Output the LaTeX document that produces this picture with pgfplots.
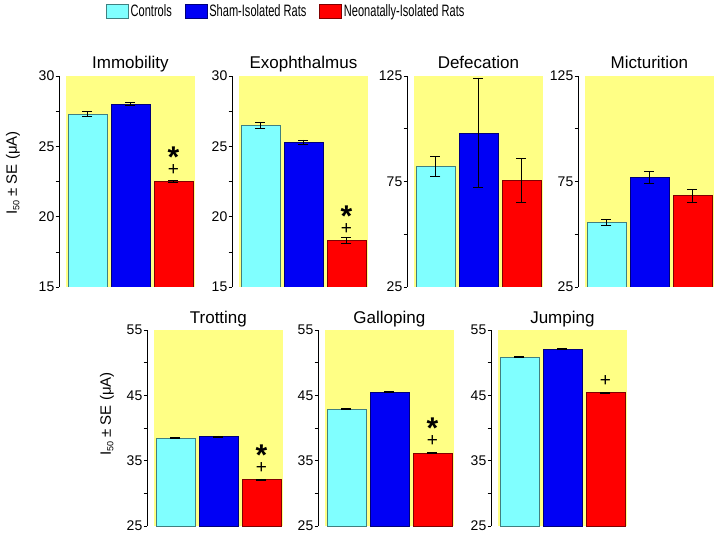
\documentclass[border=0pt]{standalone}
\usepackage{pgfplots}
\pgfplotsset{compat=1.18}
\usepackage{fontspec}
\setmainfont{Liberation Sans}
\newfontfamily\legfont[FakeStretch=0.67]{Liberation Sans}

\definecolor{ctrl}{RGB}{128,255,255}
\definecolor{sham}{RGB}{0,0,245}
\definecolor{neo}{RGB}{255,0,0}
\definecolor{bg}{RGB}{255,255,133}

\pgfplotsset{
  panel/.style={
    scale only axis, width=136pt,
    xmin=-0.66, xmax=2.5,
    axis x line=none, axis y line=left,
    y axis line style={-, line width=0.6pt},
    xtick=\empty, minor y tick num=1,
    tick align=outside, major tick length=3.5pt, minor tick length=3.5pt,
    every tick/.style={black, line width=0.6pt},
    /pgf/number format/assume math mode=true,
    yticklabel style={font=\fontsize{14}{16}\selectfont, inner sep=1pt},
    every axis title shift=0pt,
    title style={font=\fontsize{17}{20}\selectfont, at={(0.525,1)}, anchor=base, yshift=7pt},
  },
  top/.style={panel, height=211pt},
  bottom/.style={panel, height=196pt, ymin=25, ymax=55, ytick={25,35,45,55}},
  bar/.style={ybar, bar width=0.9, bar shift=0pt, fill=#1, draw=#1!50!black, line width=0.5pt,
    legend image code/.code={\draw[##1] (0pt,-7pt) rectangle (22pt,7pt);},
    error bars/.cd, y dir=both, y explicit,
    error bar style={black, line width=0.6pt},
    error mark options={rotate=90, black, line width=0.6pt, mark size=5pt}},
}

% yellow panel background
\newcommand\bgbox[2]{\fill[bg] (axis cs:-0.5,#1) rectangle (axis cs:2.5,#2);}
% significance marks above the red bar (boxes trimmed to the glyphs)
\newcommand\plus[1]{\node[anchor=south, inner sep=0pt, font=\fontsize{19}{19}\selectfont, yshift=8pt]
  at (axis cs:2,#1) {\raisebox{-0.11em}[0.47em][0pt]{+}};}
\newcommand\aster[1]{\node[anchor=south, inner sep=0pt, font=\bfseries\fontsize{30}{30}\selectfont, yshift=26pt]
  at (axis cs:2,#1) {\raisebox{-0.40em}[0.32em][0pt]{*}};}

\begin{document}
\begin{tikzpicture}
\path (0,0) rectangle (719pt,535pt);

% ---------- top row ----------
\begin{axis}[top, at={(59pt,248pt)}, anchor=south west,
    title={Immobility}, ymin=15, ymax=30, ytick={15,20,25,30},
    legend style={draw=none, fill=none, at={(0.3456,1.3057)}, anchor=west,
      legend columns=3, font=\legfont\fontsize{16.5}{18}\selectfont,
      /tikz/every even column/.append style={column sep=11pt},
      inner sep=0pt, nodes={inner sep=2pt}},
    legend cell align=left]
\bgbox{15}{30}
\addplot[bar=ctrl] coordinates {(0,27.3) +- (0,0.2)};
\addplot[bar=sham] coordinates {(1,28.0) +- (0,0.1)};
\addplot[bar=neo]  coordinates {(2,22.5) +- (0,0.07)};
\plus{22.5}\aster{22.5}
\legend{Controls,Sham-Isolated Rats,Neonatally-Isolated Rats}
\end{axis}

\begin{axis}[top, at={(232pt,248pt)}, anchor=south west,
    title={Exophthalmus}, ymin=15, ymax=30, ytick={15,20,25,30}]
\bgbox{15}{30}
\addplot[bar=ctrl] coordinates {(0,26.5) +- (0,0.2)};
\addplot[bar=sham] coordinates {(1,25.3) +- (0,0.15)};
\addplot[bar=neo]  coordinates {(2,18.3) +- (0,0.2)};
\plus{18.3}\aster{18.3}
\end{axis}

\begin{axis}[top, at={(407pt,248pt)}, anchor=south west,
    title={Defecation}, ymin=25, ymax=125, ytick={25,75,125}]
\bgbox{25}{125}
\addplot[bar=ctrl] coordinates {(0,82.2) +- (0,4.7)};
\addplot[bar=sham] coordinates {(1,98.1) +- (0,26)};
\addplot[bar=neo]  coordinates {(2,75.6) +- (0,10.4)};
\end{axis}

\begin{axis}[top, at={(578pt,248pt)}, anchor=south west,
    title={Micturition}, ymin=25, ymax=125, ytick={25,75,125}]
\bgbox{25}{125}
\addplot[bar=ctrl] coordinates {(0,55.5) +- (0,1.4)};
\addplot[bar=sham] coordinates {(1,77.0) +- (0,2.8)};
\addplot[bar=neo]  coordinates {(2,68.3) +- (0,3.0)};
\end{axis}

% ---------- bottom row ----------
\begin{axis}[bottom, at={(147pt,9pt)}, anchor=south west, title={Trotting}]
\bgbox{25}{55}
\addplot[bar=ctrl] coordinates {(0,38.5) +- (0,0.1)};
\addplot[bar=sham] coordinates {(1,38.7) +- (0,0.1)};
\addplot[bar=neo]  coordinates {(2,32.1) +- (0,0.1)};
\plus{32.1}\aster{32.1}
\end{axis}

\begin{axis}[bottom, at={(318pt,9pt)}, anchor=south west, title={Galloping}]
\bgbox{25}{55}
\addplot[bar=ctrl] coordinates {(0,42.9) +- (0,0.1)};
\addplot[bar=sham] coordinates {(1,45.5) +- (0,0.1)};
\addplot[bar=neo]  coordinates {(2,36.2) +- (0,0.1)};
\plus{36.2}\aster{36.2}
\end{axis}

\begin{axis}[bottom, at={(491pt,9pt)}, anchor=south west, title={Jumping}]
\bgbox{25}{55}
\addplot[bar=ctrl] coordinates {(0,50.9) +- (0,0.1)};
\addplot[bar=sham] coordinates {(1,52.1) +- (0,0.1)};
\addplot[bar=neo]  coordinates {(2,45.4) +- (0,0.1)};
\plus{45.4}
\end{axis}

% y axis labels
\node[rotate=90, font=\fontsize{15}{18}\selectfont] at (13pt,362pt)
  {I\raisebox{-0.3ex}{\fontsize{9}{9}\selectfont 50} ± SE (μA)};
\node[rotate=90, font=\fontsize{15}{18}\selectfont] at (107pt,121pt)
  {I\raisebox{-0.3ex}{\fontsize{9}{9}\selectfont 50} ± SE (μA)};
\end{tikzpicture}
\end{document}
